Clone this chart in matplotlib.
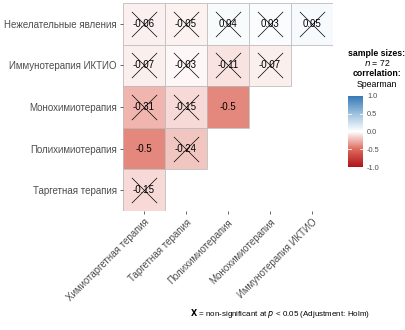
import numpy as np
import matplotlib
matplotlib.use("Agg")
import matplotlib.pyplot as plt
from matplotlib.colors import LinearSegmentedColormap, Normalize
from matplotlib.cm import ScalarMappable
from matplotlib.patches import Rectangle

plt.rcParams['font.family'] = ['Liberation Sans', 'DejaVu Sans']

# x axis (left to right) and y axis (top to bottom) categories
x_labels = ["Химиотаргетная терапия", "Таргетная терапия", "Полихимиотерапия",
            "Монохимиотерапия", "Иммунотерапия ИКТИО"]
y_labels = ["Нежелательные явления", "Иммунотерапия ИКТИО", "Монохимиотерапия",
            "Полихимиотерапия", "Таргетная терапия"]

# correlation values per row (top to bottom), None = empty cell
corr = [
    [-0.06, -0.05, 0.04, 0.03, 0.05],
    [-0.07, -0.03, -0.11, -0.07, None],
    [-0.31, -0.15, -0.5, None, None],
    [-0.5, -0.24, None, None, None],
    [-0.15, None, None, None, None],
]
# significant after Holm adjustment
signif = [
    [False, False, False, False, False],
    [False, False, False, False, None],
    [False, False, True, None, None],
    [True, False, None, None, None],
    [False, None, None, None, None],
]
n_size = 72

cmap = LinearSegmentedColormap.from_list(
    "rb", [(0.0, "#AE1318"), (0.25, "#DE6A5C"), (0.5, "#FFFFFF"),
           (0.75, "#9DC1DD"), (1.0, "#3679B4")])
norm = Normalize(-1, 1)

fig = plt.figure(figsize=(4.06, 3.30), dpi=100)
ax = fig.add_axes([123 / 406, 1 - 211 / 330, 210 / 406, 208 / 330])

nr, nc = len(y_labels), len(x_labels)
for i, row in enumerate(corr):
    for j, v in enumerate(row):
        if v is None:
            continue
        ax.add_patch(Rectangle((j - 0.5, i - 0.5), 1, 1, facecolor=cmap(norm(v)), alpha=0.8,
                               edgecolor="none"))
        ax.add_patch(Rectangle((j - 0.5, i - 0.5), 1, 1, facecolor="none",
                               edgecolor="#BDBDBD", linewidth=0.6))
        ax.text(j, i, f"{v:g}", ha="center", va="center", fontsize=7, color="black")
        if not signif[i][j]:
            ax.scatter(j, i, marker="x", s=330, color="black", linewidths=0.5)

ax.set_xlim(-0.5, nc - 0.5)
ax.set_ylim(nr - 0.5, -0.5)
ax.set_xticks(range(nc))
ax.set_yticks(range(nr))
ax.set_xticklabels(x_labels, rotation=45, ha="right", rotation_mode="anchor",
                   fontsize=7, color="#4D4D4D")
ax.set_yticklabels(y_labels, fontsize=7, color="#4D4D4D")
ax.tick_params(length=2.5, width=0.6, color="#4D4D4D", pad=2)
for s in ax.spines.values():
    s.set_visible(False)

# legend block
fig.text(377 / 406, 1 - 53 / 330, "sample sizes:", ha="center", va="center",
         fontsize=6.3, fontweight="bold")
fig.text(377 / 406, 1 - 63.5 / 330, f"$n$ = {n_size}", ha="center", va="center", fontsize=6.3)
fig.text(377 / 406, 1 - 74 / 330, "correlation:", ha="center", va="center",
         fontsize=6.3, fontweight="bold")
fig.text(377 / 406, 1 - 84.5 / 330, "Spearman", ha="center", va="center", fontsize=6.3)

cax = fig.add_axes([348 / 406, 1 - 167 / 330, 15 / 406, 71 / 330])
cb = fig.colorbar(ScalarMappable(norm=norm, cmap=cmap), cax=cax, ticks=[-1, -0.5, 0, 0.5, 1])
cb.outline.set_visible(False)
cb.ax.set_yticklabels(["-1.0", "-0.5", "0.0", "0.5", "1.0"])
cb.ax.tick_params(length=0, labelsize=5.3, labelcolor="#4D4D4D", pad=3)
for t in [-0.5, 0, 0.5]:
    cax.axhline(t, xmin=0, xmax=0.2, color="white", lw=0.6)
    cax.axhline(t, xmin=0.8, xmax=1, color="white", lw=0.6)

fig.text(190 / 406, 1 - 314 / 330,
         r"$\mathbf{X}$ = non-significant at $p$ < 0.05 (Adjustment: Holm)",
         ha="left", va="center", fontsize=5.8)

fig.savefig("out.png", dpi=100)
